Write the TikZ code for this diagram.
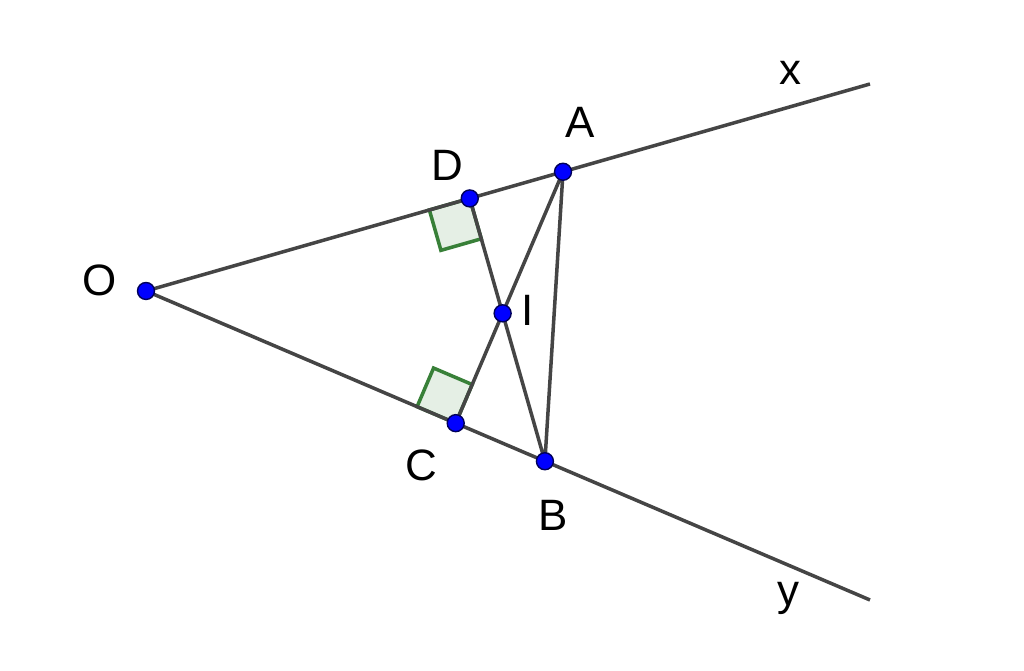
\documentclass[tikz,border=0pt]{standalone}
\usepackage{fontspec}
\setmainfont{Liberation Sans}
\usetikzlibrary{calc}
\definecolor{markgreen}{RGB}{56,128,56}
\definecolor{markfill}{RGB}{229,239,229}

\begin{document}
\begin{tikzpicture}[line/.style={line width=1pt,color=black!73},
  dot/.style={fill=blue,draw=blue!35!black,line width=0.4pt},
  rangle/.style={draw=markgreen,fill=markfill,line width=1pt},
  lbl/.style={font=\fontsize{12.5}{15}\selectfont}]
\useasboundingbox (0,0) rectangle (10.24,-6.71);

\coordinate (O) at (1.46,-2.91);
\coordinate (X) at (8.70,-0.84);
\coordinate (Y) at (8.70,-6.00);
\coordinate (A) at ($(O)!0.576!(X)$);
\coordinate (B) at ($(O)!0.551!(Y)$);
\coordinate (D) at ($(O)!(B)!(X)$);
\coordinate (C) at ($(O)!(A)!(Y)$);
\coordinate (I) at (intersection of A--C and B--D);

% right angle marks
\coordinate (d1) at ($(D)!0.42cm!(O)$);
\coordinate (d2) at ($(D)!0.42cm!(B)$);
\coordinate (c1) at ($(C)!0.42cm!(O)$);
\coordinate (c2) at ($(C)!0.42cm!(A)$);
\draw[rangle] (D) -- (d1) -- ($(d1)+(d2)-(D)$) -- (d2) -- cycle;
\draw[rangle] (C) -- (c1) -- ($(c1)+(c2)-(C)$) -- (c2) -- cycle;

\draw[line] (X)--(O)--(Y) (A)--(C) (B)--(D) (A)--(B);

\foreach \p in {O,A,B,C,D,I}
{
\draw[dot] (\p) circle (.085);
}

\node[lbl] (lx) at (7.90,-0.73) {x};
\node[lbl] (lA) at (5.80,-1.22) {A};
\node[lbl] (lD) at (4.47,-1.65) {D};
\node[lbl] (lO) at (1.00,-2.80) {O};
\node[lbl] (lI) at (5.28,-3.10) {I};
\node[lbl] (lC) at (4.21,-4.65) {C};
\node[lbl] (lB) at (5.53,-5.15) {B};
\node[lbl] (ly) at (7.88,-5.98) {y};
\end{tikzpicture}
\end{document}
